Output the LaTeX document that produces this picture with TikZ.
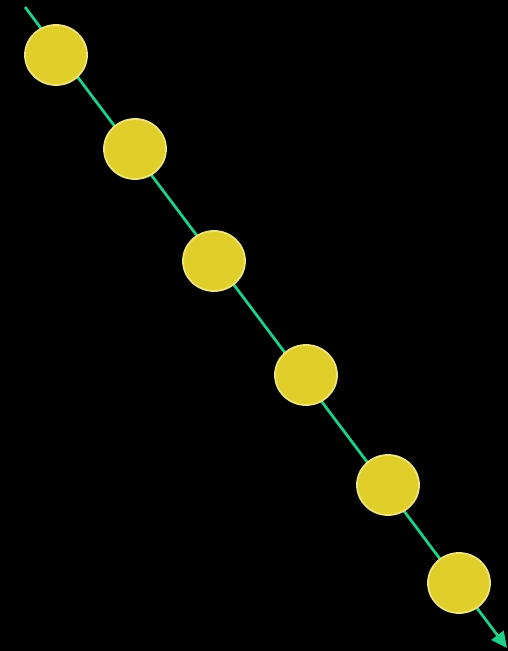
\documentclass[tikz,border=0pt]{standalone}
\usetikzlibrary{arrows.meta,shapes.geometric}
\definecolor{bg}{RGB}{0,0,0}
\definecolor{ballfill}{RGB}{224,207,42}
\definecolor{balledge}{RGB}{238,228,125}
\definecolor{linegreen}{RGB}{30,208,136}
\tikzset{
  ball/.style={ellipse, minimum width=62pt, minimum height=60pt, fill=ballfill, draw=balledge, line width=1.8pt, inner sep=0pt},
  track/.style={draw=linegreen, line width=2.8pt, -{Triangle[length=16pt,width=15pt]}}
}
\begin{document}
\begin{tikzpicture}[x=1pt,y=-1pt]
\fill[bg] (0,0) rectangle (508,651);
\useasboundingbox (0,0) rectangle (508,651);
\coordinate (s) at (25,7);
\coordinate (e) at (507,648);
\draw[track] (s) -- (e);
\node[ball] (b1) at (56,55) {};
\node[ball] (b2) at (135,149) {};
\node[ball] (b3) at (214,261) {};
\node[ball] (b4) at (306,375) {};
\node[ball] (b5) at (388,485) {};
\node[ball] (b6) at (459,583) {};
\end{tikzpicture}
\end{document}
